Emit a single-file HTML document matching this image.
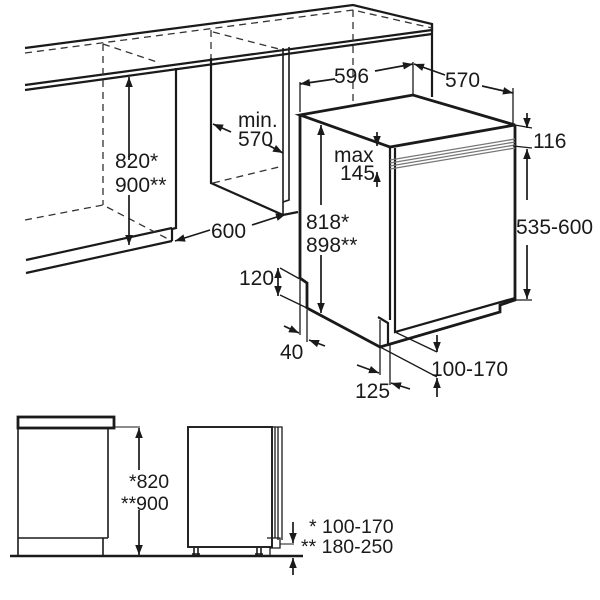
<!DOCTYPE html>
<html><head><style>
html,body{margin:0;padding:0;background:#fff;}
svg{display:block;}
text{font-family:"Liberation Sans",sans-serif;fill:#1a1a1a;}
</style></head><body>
<svg width="600" height="600" viewBox="0 0 600 600" xmlns="http://www.w3.org/2000/svg">
<defs>
<marker id="a" viewBox="0 0 10 10" refX="10" refY="5" markerWidth="12" markerHeight="10" orient="auto-start-reverse" markerUnits="userSpaceOnUse"><path d="M0,1.2 L10,5 L0,8.8 z" fill="#1a1a1a"/></marker>
</defs>
<g stroke="#1a1a1a" fill="none" stroke-width="2.2">
<path d="M25,48 L353,5 L432,24 L432,30 L25,85"/>
<path d="M25,90 L432,34"/>
<path d="M432,24 L432,97"/>
<path d="M176,68 L176,228 L172,229 L172,241"/>
<path d="M26,260 L172,228"/>
<path d="M26,273 L172,241"/>
<path d="M211,58 L211,183 L283,215 L298,212"/>
<path d="M283,48 L283,215" stroke-width="1.6"/>
<path d="M289,47 L289,200 L283,202" stroke-width="1.6"/>
<path d="M300,115 L413,95 L515,125 L390,147 Z" stroke-width="2.8"/>
<path d="M300,115 L300,278 L307,283 L307,308 L380,347 L500,312 L500,305 L515,300 L515,125" stroke-width="2.8"/>
<path d="M390,147 L390,320 M395,148 L395,332 L515,298" stroke-width="2.2"/>
<path d="M378,317 L388,323 L388,345" stroke-width="2.2"/>
<path d="M388,345 L500,312" stroke-width="2.2"/>
</g>
<g stroke="#777" stroke-width="1.3">
<path d="M390,160 L515,139 M390,163 L515,142 M390,166 L515,145 M390,169 L515,148"/>
</g>
<g stroke="#333" stroke-width="1.3" fill="none" stroke-dasharray="7,5">
<path d="M25,53 L353,10 L432,28"/>
<path d="M103,44 L103,205 M103,44 L160,63"/>
<path d="M25,220 L103,205 L170,240"/>
<path d="M211,30 L211,58 M213,32 L283,50"/>
<path d="M213,183 L283,166"/>
<path d="M353,10 L353,105"/>
</g>
<g stroke="#1a1a1a" stroke-width="1.3" fill="none">
<path d="M300,82 L300,112 M413,62 L413,95 M513,88 L513,124"/>
<path d="M515,125 L532,128 M513,146 L532,148 M515,300 L532,300"/>
<path d="M380,375 L380,320 M390,385 L390,345"/>
<path d="M300,335 L300,280 M307,342 L307,310"/>
<path d="M280,268 L307,283 M280,295 L307,308"/>
<path d="M395,332 L437,352 M380,347 L437,377"/>
</g>
<g stroke="#1a1a1a" stroke-width="1.7" fill="none" marker-end="url(#a)">
<path d="M129,160 L129,77"/>
<path d="M129,195 L129,245"/>
<path d="M231,132 L213,124"/>
<path d="M268,145 L283,153"/>
<path d="M210,230 L175,241"/>
<path d="M252,225 L286,214"/>
<path d="M335,79 L300,84"/>
<path d="M375,71 L413,64"/>
<path d="M445,75 L414,64"/>
<path d="M482,86 L513,93"/>
<path d="M527,113 L527,128"/>
<path d="M527,200 L527,149"/>
<path d="M527,245 L527,299"/>
<path d="M321,205 L321,125"/>
<path d="M321,255 L321,313"/>
<path d="M377,132 L377,146"/>
<path d="M377,187 L377,172"/>
<path d="M278,283 L278,268"/>
<path d="M278,283 L278,296"/>
<path d="M284,326 L299,333"/>
<path d="M325,346 L309,340"/>
<path d="M357,365 L379,373"/>
<path d="M410,389 L391,383"/>
<path d="M437,335 L437,352"/>
<path d="M437,397 L437,378"/>
</g>
<g font-size="21">
<text x="115" y="168">820*</text>
<text x="115" y="192">900**</text>
<text x="238" y="127">min.</text>
<text x="238" y="146">570</text>
<text x="211" y="238">600</text>
<text x="334" y="83">596</text>
<text x="445" y="87">570</text>
<text x="533" y="148">116</text>
<text x="334" y="162">max</text>
<text x="340" y="180">145</text>
<text x="516" y="234">535-600</text>
<text x="306" y="229">818*</text>
<text x="306" y="252">898**</text>
<text x="239" y="285">120</text>
<text x="280" y="359">40</text>
<text x="431" y="376">100-170</text>
<text x="355" y="398">125</text>
</g>
<g stroke="#1a1a1a" fill="none">
<rect x="18" y="417" width="96" height="11" stroke-width="2.8"/>
<path d="M18,428 L18,556 M108,428 L108,538 M18,538 L108,538 M103,538 L103,556" stroke-width="1.6"/>
<path d="M10,556 L303,556" stroke-width="2.6"/>
<path d="M114,427 L140,427 M280,544 L294,544" stroke-width="1"/>
<rect x="188" y="427" width="84" height="120" stroke-width="1.9"/>
<path d="M272,427 L282,427 L282,540 M275,427 L275,538 M278,427 L278,540 M267,538 L280,538 L280,548 L270,548 L270,556" stroke-width="1.3"/>
<path d="M194,548 L194,556 M198,548 L198,556 M257,548 L257,556 M261,548 L261,556 M192,554 L200,554 M255,554 L263,554" stroke-width="1.6"/>
</g>
<g stroke="#1a1a1a" stroke-width="1.7" marker-end="url(#a)">
<path d="M139,470 L139,428"/>
<path d="M139,510 L139,555"/>
<path d="M293,522 L293,543"/>
<path d="M293,575 L293,558"/>
</g>
<g font-size="19.5">
<text x="129" y="488">*820</text>
<text x="121" y="510">**900</text>
<text x="309" y="533">* 100-170</text>
<text x="301" y="553">** 180-250</text>
</g>
</svg>
</body></html>
